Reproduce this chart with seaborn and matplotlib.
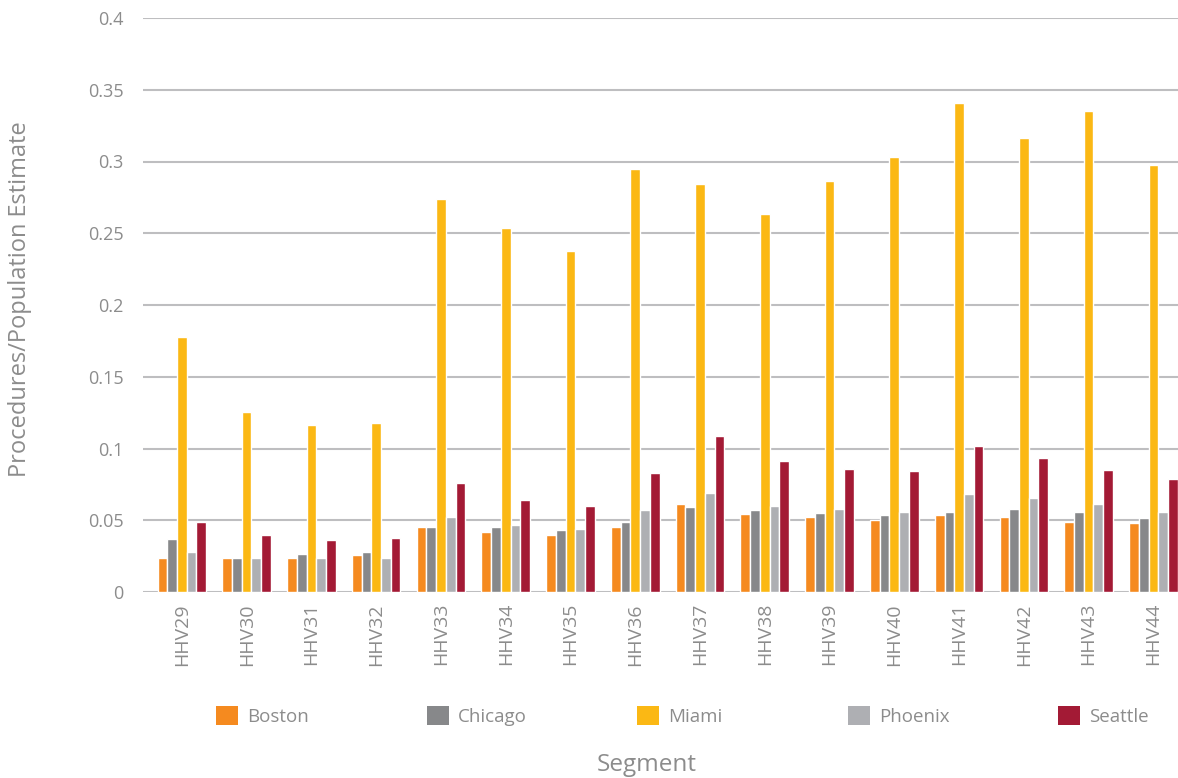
import matplotlib
matplotlib.use("Agg")
import matplotlib.pyplot as plt
from matplotlib.patches import Patch
import seaborn as sns
import pandas as pd

segments = [f"HHV{n}" for n in range(29, 45)]
cities = ["Boston", "Chicago", "Miami", "Phoenix", "Seattle"]

boston = [0.024, 0.024, 0.024, 0.026, 0.045, 0.0415, 0.040, 0.045,
          0.0615, 0.0547, 0.0526, 0.0505, 0.054, 0.0526, 0.049, 0.0484]
chicago = [0.037, 0.024, 0.0267, 0.0279, 0.0456, 0.045, 0.0429, 0.049,
           0.0589, 0.0568, 0.0554, 0.054, 0.056, 0.0575, 0.056, 0.0519]
miami = [0.178, 0.1256, 0.1166, 0.118, 0.274, 0.2537, 0.2376, 0.2948,
         0.2843, 0.2634, 0.2864, 0.303, 0.3408, 0.3164, 0.3352, 0.2976]
phoenix = [0.0279, 0.0235, 0.0235, 0.0235, 0.0526, 0.047, 0.0436, 0.0568,
           0.0693, 0.0596, 0.0575, 0.056, 0.0686, 0.0658, 0.0615, 0.056]
seattle = [0.0488, 0.0399, 0.0364, 0.0378, 0.0763, 0.0638, 0.0596, 0.083,
           0.109, 0.0916, 0.086, 0.084, 0.1014, 0.0937, 0.0853, 0.0784]

y_ticks = [0, 0.05, 0.1, 0.15, 0.2, 0.25, 0.3, 0.35, 0.4]
y_tick_labels = ["0", "0.05", "0.1", "0.15", "0.2", "0.25", "0.3", "0.35", "0.4"]

colors = ["#F58A1F", "#87888A", "#FBB814", "#AEAFB3", "#A31A35"]
text_gray = "#8C8C8C"

series = dict(zip(cities, [boston, chicago, miami, phoenix, seattle]))
df = pd.DataFrame([
    {"Segment": seg, "City": city, "Value": vals[i]}
    for city, vals in series.items()
    for i, seg in enumerate(segments)
])

sns.set_style("white")
plt.rcParams["font.family"] = ["Open Sans", "DejaVu Sans"]

W, H = 1178, 778
fig = plt.figure(figsize=(W / 100, H / 100), dpi=100)
ax = fig.add_axes([143 / W, 186 / H, 1 - 143 / W, (592 - 18) / H])

sns.barplot(data=df, x="Segment", y="Value", hue="City", order=segments,
            hue_order=cities, palette=colors, width=0.75, gap=0,
            saturation=1, errorbar=None, legend=False, ax=ax, zorder=3)

ax.set_xlim(-0.6, 15.38)
ax.set_ylim(0, 0.4)
ax.set_yticks(y_ticks)
ax.set_yticklabels(y_tick_labels)
ax.yaxis.grid(True, color="#BEBEC0", linewidth=1.5, zorder=0)
ax.set_axisbelow(True)
for side in ["top", "right", "left", "bottom"]:
    ax.spines[side].set_visible(False)
ax.tick_params(axis="y", length=0, colors=text_gray, labelsize=13, pad=14)
ax.tick_params(axis="x", length=0, colors=text_gray, labelsize=14, pad=8)
plt.setp(ax.get_xticklabels(), rotation=90)
ax.set_xlabel("")
ax.set_ylabel("")

fig.text(20 / W, 1 - 299 / H, "Procedures/Population Estimate", rotation=90,
         color=text_gray, fontsize=17, ha="center", va="center")
fig.text(647 / W, 1 - 765 / H, "Segment", color=text_gray, fontsize=17.5,
         ha="center", va="center")

# one legend entry per city, evenly spread under the axis
legend_x = [216, 427, 637, 848, 1058]
for city, col, lx in zip(cities, colors, legend_x):
    fig.legend(handles=[Patch(facecolor=col, edgecolor="none")], labels=[city],
               loc="center left", bbox_to_anchor=(lx / W, 1 - 716 / H),
               frameon=False, borderpad=0, borderaxespad=0, fontsize=13.5,
               handlelength=1.15, handleheight=1.15, handletextpad=0.5,
               labelcolor=text_gray)

fig.savefig("out.png", dpi=100)
